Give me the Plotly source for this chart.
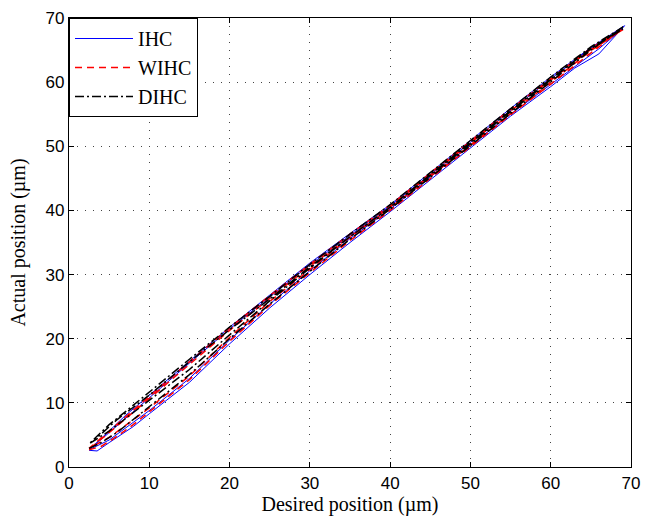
import plotly.graph_objects as go

# Desired / actual positions (µm): two up/down cycles per method
ihc_x = [2.5, 3.5, 5, 8, 10, 15, 20, 25, 30, 35, 40, 45, 50, 55, 60, 63, 66, 69.2,
         65, 60, 55, 50, 45, 40, 35, 30, 25, 20, 15, 10, 7, 5, 3, 2.5,
         5, 10, 15, 20, 25, 30, 35, 40, 45, 50, 55, 60, 63, 66, 69,
         65, 60, 55, 50, 45, 40, 35, 30, 25, 20, 15, 10, 6, 3]
ihc_y = [2.6, 2.5, 3.8, 6.3, 8.3, 13.2, 19.2, 24.8, 30.0, 35.0, 39.8, 44.8, 49.8, 54.7, 59.3, 62.2, 64.4, 68.8,
         65.4, 60.8, 55.9, 50.9, 45.9, 40.9, 36.4, 31.8, 26.8, 21.8, 16.5, 11.2, 8.0, 5.6, 3.4, 2.7,
         4.2, 8.8, 13.8, 19.8, 25.4, 30.6, 35.6, 40.2, 45.2, 50.2, 55.0, 59.6, 62.4, 65.2, 68.4,
         65.3, 60.5, 55.6, 50.6, 45.6, 40.7, 36.1, 31.5, 26.5, 21.5, 16.2, 10.8, 6.4, 3.2]

wihc_x = [2.5, 4, 6, 8, 10, 15, 20, 25, 30, 35, 40, 45, 50, 55, 60, 65, 69,
          65, 60, 55, 50, 45, 40, 35, 30, 25, 20, 15, 10, 7, 5, 2.5,
          5, 10, 15, 20, 25, 30, 35, 40, 45, 50, 55, 60, 65, 69,
          65, 60, 55, 50, 45, 40, 35, 30, 25, 20, 15, 10, 6, 3]
wihc_y = [2.7, 3.2, 4.8, 6.6, 8.6, 13.6, 19.6, 25.2, 30.3, 35.3, 40.0, 45.0, 50.0, 54.9, 59.7, 64.6, 68.4,
          65.3, 60.6, 55.8, 50.8, 45.8, 40.8, 36.3, 31.6, 26.7, 21.7, 16.4, 11.0, 7.8, 5.6, 2.9,
          4.6, 9.2, 14.2, 20.2, 25.8, 30.8, 35.8, 40.4, 45.3, 50.3, 55.2, 60.0, 64.9, 68.2,
          65.1, 60.3, 55.5, 50.5, 45.5, 40.5, 35.9, 31.3, 26.3, 21.3, 16.0, 10.6, 6.4, 3.3]

dihc_x = [2.5, 4, 6, 8, 10, 15, 20, 25, 30, 35, 40, 45, 50, 55, 60, 65, 69,
          65, 60, 55, 50, 45, 40, 35, 30, 25, 20, 15, 10, 7, 5, 2.5,
          5, 10, 15, 20, 25, 30, 35, 40, 45, 50, 55, 60, 65, 69,
          65, 60, 55, 50, 45, 40, 35, 30, 25, 20, 15, 10, 6, 3]
dihc_y = [2.9, 3.8, 5.4, 7.4, 9.4, 14.4, 20.0, 25.4, 30.5, 35.5, 40.2, 45.1, 50.1, 55.1, 60.0, 65.0, 68.6,
          65.5, 60.8, 55.9, 50.9, 45.9, 40.9, 36.3, 31.6, 26.6, 21.8, 16.8, 11.6, 8.6, 6.6, 3.6,
          5.6, 10.4, 15.2, 20.6, 25.9, 31.0, 35.9, 40.5, 45.4, 50.4, 55.4, 60.3, 65.3, 68.3,
          65.2, 60.5, 55.6, 50.6, 45.6, 40.5, 35.9, 31.2, 26.2, 21.4, 16.4, 11.2, 7.4, 4.0]

x_ticks = [0, 10, 20, 30, 40, 50, 60, 70]
y_ticks = [0, 10, 20, 30, 40, 50, 60, 70]

fig = go.Figure()
fig.add_trace(go.Scatter(x=ihc_x, y=ihc_y, mode="lines", name="IHC",
                         line=dict(color="#0000ff", width=1)))
fig.add_trace(go.Scatter(x=wihc_x, y=wihc_y, mode="lines", name="WIHC",
                         line=dict(color="#ff0000", width=1.5, dash="7px,5px")))
fig.add_trace(go.Scatter(x=dihc_x, y=dihc_y, mode="lines", name="DIHC",
                         line=dict(color="#000000", width=1.5, dash="9px,3px,2px,3px")))

serif = "Liberation Serif, Times New Roman, serif"
sans = "Liberation Sans, Arial, sans-serif"

axis_common = dict(
    range=[0, 70], showline=True, linecolor="black", linewidth=1.3, mirror="allticks",
    ticks="inside", ticklen=5, tickcolor="black", showgrid=True, gridcolor="#444444",
    griddash="1px,7px", gridwidth=1, zeroline=False, ticklabeloverflow="allow",
    tickfont=dict(family=sans, size=17, color="black"),
)
fig.update_xaxes(**axis_common, tickvals=x_ticks,
                 title=dict(text="Desired position (µm)", standoff=4,
                            font=dict(family=serif, size=20, color="black")))
fig.update_yaxes(**axis_common, tickvals=y_ticks,
                 title=dict(text="Actual position (µm)", standoff=14,
                            font=dict(family=serif, size=20, color="black")))

fig.update_layout(
    width=649, height=524,
    margin=dict(l=69, r=9, t=18, b=57),
    plot_bgcolor="white", paper_bgcolor="white",
    showlegend=True,
    legend=dict(x=0, y=1, xanchor="left", yanchor="top", bgcolor="white",
                bordercolor="black", borderwidth=1, itemwidth=58,
                font=dict(family=serif, size=20, color="black"),
                tracegroupgap=0),
)

fig.write_html("out.html")
